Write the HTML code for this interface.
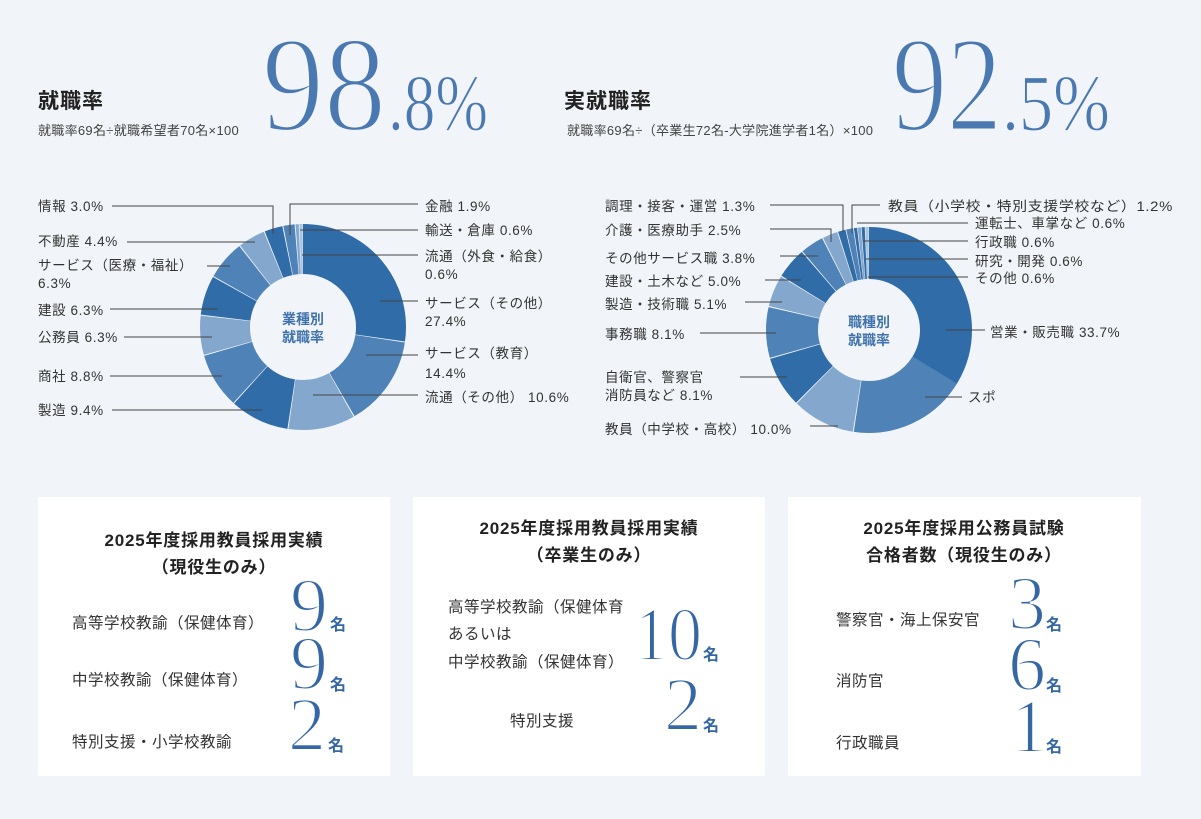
<!DOCTYPE html>
<html><head><meta charset="utf-8"><style>
html,body{margin:0;padding:0;background:#f1f4f8}
svg{display:block}
text{font-family:"Liberation Sans","Noto Sans CJK JP",sans-serif;fill:#333}
.l{font-size:13.5px;letter-spacing:0.6px}
.h{font-size:21px;font-weight:bold;fill:#222;letter-spacing:1px}
.s{font-size:13px;fill:#444;letter-spacing:0.3px}
.big{font-family:"Liberation Serif","Noto Serif CJK SC",serif;fill:#4a78b0;stroke:#f1f4f8;stroke-width:3}
.sm{stroke-width:1.2}
.cd{font-family:"Liberation Serif","Noto Serif CJK SC",serif;fill:#3567a5;font-size:76px;stroke:#fff;stroke-width:2}
.mei{font-size:16px;font-weight:bold;fill:#3567a5}
.t{font-size:17px;font-weight:bold;fill:#222;letter-spacing:0.8px}
.r{font-size:15.5px;fill:#333;letter-spacing:0.5px}
.ln{stroke:#444;stroke-width:1;fill:none}
.c{font-size:14px;font-weight:bold;fill:#3f72ad}
</style></head><body>
<svg width="1201" height="819" viewBox="0 0 1201 819">
<rect width="1201" height="819" fill="#f1f4f8"/>
<text x="38" y="108" class="h">就職率</text>
<text x="38" y="135" class="s">就職率69名÷就職希望者70名×100</text>
<text x="262" y="130" class="big" font-size="136" textLength="124" lengthAdjust="spacingAndGlyphs">98</text>
<text x="388" y="130" class="big sm" font-size="80" textLength="100" lengthAdjust="spacingAndGlyphs">.8%</text>
<text x="564" y="108" class="h">実就職率</text>
<text x="567" y="135" class="s">就職率69名÷（卒業生72名-大学院進学者1名）×100</text>
<text x="892" y="130" class="big" font-size="136" textLength="110" lengthAdjust="spacingAndGlyphs">92</text>
<text x="1002" y="130" class="big sm" font-size="80" textLength="108" lengthAdjust="spacingAndGlyphs">.5%</text>

<g transform="translate(303,327) rotate(-90)" fill="none" stroke-width="50">
<circle r="78" stroke="#2f6ca8" stroke-dasharray="133.5 490.1" stroke-dashoffset="0"/>
<circle r="78" stroke="#4f83b8" stroke-dasharray="69.8 490.1" stroke-dashoffset="-134.28"/>
<circle r="78" stroke="#84a8cd" stroke-dasharray="51.2 490.1" stroke-dashoffset="-204.86"/>
<circle r="78" stroke="#2f6ca8" stroke-dasharray="45.3 490.1" stroke-dashoffset="-256.81"/>
<circle r="78" stroke="#4f83b8" stroke-dasharray="42.4 490.1" stroke-dashoffset="-302.88"/>
<circle r="78" stroke="#84a8cd" stroke-dasharray="30.1 490.1" stroke-dashoffset="-346.00"/>
<circle r="78" stroke="#2f6ca8" stroke-dasharray="30.1 490.1" stroke-dashoffset="-376.88"/>
<circle r="78" stroke="#4f83b8" stroke-dasharray="30.1 490.1" stroke-dashoffset="-407.75"/>
<circle r="78" stroke="#84a8cd" stroke-dasharray="20.8 490.1" stroke-dashoffset="-438.63"/>
<circle r="78" stroke="#2f6ca8" stroke-dasharray="13.9 490.1" stroke-dashoffset="-460.19"/>
<circle r="78" stroke="#4f83b8" stroke-dasharray="8.6 490.1" stroke-dashoffset="-474.90"/>
<circle r="78" stroke="#84a8cd" stroke-dasharray="2.4 490.1" stroke-dashoffset="-484.21"/>
<circle r="78" stroke="#a9c2dd" stroke-dasharray="2.4 490.1" stroke-dashoffset="-487.15"/>
</g>
<text x="303" y="324" class="c" text-anchor="middle">業種別</text>
<text x="303" y="342" class="c" text-anchor="middle">就職率</text>

<g transform="translate(869,330) rotate(-90)" fill="none" stroke-width="52">
<circle r="77" stroke="#2f6ca8" stroke-dasharray="163.3 483.8" stroke-dashoffset="0"/>
<circle r="77" stroke="#4f83b8" stroke-dasharray="90.2 483.8" stroke-dashoffset="-163.04"/>
<circle r="77" stroke="#84a8cd" stroke-dasharray="47.6 483.8" stroke-dashoffset="-254.0"/>
<circle r="77" stroke="#2f6ca8" stroke-dasharray="38.4 483.8" stroke-dashoffset="-302.4"/>
<circle r="77" stroke="#4f83b8" stroke-dasharray="38.4 483.8" stroke-dashoffset="-341.6"/>
<circle r="77" stroke="#84a8cd" stroke-dasharray="23.9 483.8" stroke-dashoffset="-380.8"/>
<circle r="77" stroke="#2f6ca8" stroke-dasharray="23.4 483.8" stroke-dashoffset="-405.4"/>
<circle r="77" stroke="#4f83b8" stroke-dasharray="17.6 483.8" stroke-dashoffset="-429.6"/>
<circle r="77" stroke="#84a8cd" stroke-dasharray="11.4 483.8" stroke-dashoffset="-448.0"/>
<circle r="77" stroke="#2f6ca8" stroke-dasharray="5.7 483.8" stroke-dashoffset="-460.1"/>
<circle r="77" stroke="#4f83b8" stroke-dasharray="5.2 483.8" stroke-dashoffset="-466.4"/>
<circle r="77" stroke="#2f6ca8" stroke-dasharray="2.4 483.8" stroke-dashoffset="-472.2"/>
<circle r="77" stroke="#84a8cd" stroke-dasharray="2.4 483.8" stroke-dashoffset="-475.1"/>
<circle r="77" stroke="#2f6ca8" stroke-dasharray="2.4 483.8" stroke-dashoffset="-478.0"/>
<circle r="77" stroke="#a9c2dd" stroke-dasharray="2.4 483.8" stroke-dashoffset="-480.9"/>
</g>
<text x="869" y="327" class="c" text-anchor="middle">職種別</text>
<text x="869" y="345" class="c" text-anchor="middle">就職率</text>

<text x="38" y="211" class="l">情報 3.0%</text><polyline class="ln" points="112,206 273,206 273,234"/>
<text x="38" y="246" class="l">不動産 4.4%</text><polyline class="ln" points="127,242 255,242"/>
<text x="38" y="270" class="l">サービス（医療・福祉）</text><text x="38" y="288" class="l">6.3%</text><polyline class="ln" points="207,266 230,266"/>
<text x="38" y="315" class="l">建設 6.3%</text><polyline class="ln" points="110,309 218,309"/>
<text x="38" y="342" class="l">公務員 6.3%</text><polyline class="ln" points="124,337 212,337"/>
<text x="38" y="381" class="l">商社 8.8%</text><polyline class="ln" points="110,376 222,376"/>
<text x="38" y="415" class="l">製造 9.4%</text><polyline class="ln" points="112,410 262,410"/>
<text x="425" y="211" class="l">金融 1.9%</text><polyline class="ln" points="290,235 290,204 418,204"/>
<text x="425" y="235" class="l">輸送・倉庫 0.6%</text><polyline class="ln" points="300,230 418,230"/>
<text x="425" y="261" class="l">流通（外食・給食）</text><text x="425" y="279" class="l">0.6%</text><polyline class="ln" points="302,255 418,255"/>
<text x="425" y="308" class="l">サービス（その他）</text><text x="425" y="326" class="l">27.4%</text><polyline class="ln" points="380,301 418,301"/>
<text x="425" y="358" class="l">サービス（教育）</text><text x="425" y="378" class="l">14.4%</text><polyline class="ln" points="366,355 418,355"/>
<text x="425" y="402" class="l">流通（その他） 10.6%</text><polyline class="ln" points="313,395 418,395"/>

<text x="605" y="211" class="l">調理・接客・運営 1.3%</text><polyline class="ln" points="770,205 843,205 843,232"/>
<text x="605" y="235" class="l">介護・医療助手 2.5%</text><polyline class="ln" points="770,229 831,229 831,242"/>
<text x="605" y="263" class="l">その他サービス職 3.8%</text><polyline class="ln" points="780,256 818,256"/>
<text x="605" y="286" class="l">建設・土木など 5.0%</text><polyline class="ln" points="765,280 801,280"/>
<text x="605" y="309" class="l">製造・技術職 5.1%</text><polyline class="ln" points="745,302 782,302"/>
<text x="605" y="339" class="l">事務職 8.1%</text><polyline class="ln" points="700,333 776,333"/>
<text x="605" y="382" class="l">自衛官、警察官</text><text x="605" y="400" class="l">消防員など 8.1%</text><polyline class="ln" points="740,377 787,377"/>
<text x="605" y="434" class="l">教員（中学校・高校） 10.0%</text><polyline class="ln" points="810,426 838,426"/>
<text x="888" y="211" class="l" textLength="285" lengthAdjust="spacingAndGlyphs">教員（小学校・特別支援学校など）1.2%</text><polyline class="ln" points="852,233 852,205 880,205"/>
<text x="975" y="228" class="l">運転士、車掌など 0.6%</text><polyline class="ln" points="857,223 968,223"/>
<text x="975" y="247" class="l">行政職 0.6%</text><polyline class="ln" points="863,241 968,241"/>
<text x="975" y="266" class="l">研究・開発 0.6%</text><polyline class="ln" points="866,259 968,259"/>
<text x="975" y="283" class="l">その他 0.6%</text><polyline class="ln" points="868,277 968,277"/>
<text x="990" y="337" class="l">営業・販売職 33.7%</text><polyline class="ln" points="946,330 985,330"/>
<text x="968" y="402" class="l">スポ</text><polyline class="ln" points="925,397 962,397"/>

<rect x="38" y="497" width="352" height="279" fill="#fff"/>
<rect x="413" y="497" width="352" height="279" fill="#fff"/>
<rect x="788" y="497" width="353" height="279" fill="#fff"/>

<text x="214" y="546" class="t" text-anchor="middle">2025年度採用教員採用実績</text>
<text x="214" y="573" class="t" text-anchor="middle">（現役生のみ）</text>
<text x="72" y="628" class="r">高等学校教諭（保健体育）</text>
<text x="290" y="631" class="cd">9</text><text x="330" y="630" class="mei">名</text>
<text x="72" y="685" class="r">中学校教諭（保健体育）</text>
<text x="290" y="689" class="cd">9</text><text x="330" y="690" class="mei">名</text>
<text x="72" y="747" class="r">特別支援・小学校教諭</text>
<text x="288" y="750" class="cd">2</text><text x="328" y="751" class="mei">名</text>

<text x="589" y="534" class="t" text-anchor="middle">2025年度採用教員採用実績</text>
<text x="589" y="561" class="t" text-anchor="middle">（卒業生のみ）</text>
<text x="448" y="612" class="r">高等学校教諭（保健体育</text>
<text x="448" y="639" class="r">あるいは</text>
<text x="448" y="667" class="r">中学校教諭（保健体育）</text>
<text x="634" y="660" class="cd" textLength="68" lengthAdjust="spacingAndGlyphs">10</text><text x="703" y="660" class="mei">名</text>
<text x="510" y="726" class="r">特別支援</text>
<text x="664" y="730" class="cd">2</text><text x="703" y="731" class="mei">名</text>

<text x="964" y="534" class="t" text-anchor="middle">2025年度採用公務員試験</text>
<text x="964" y="561" class="t" text-anchor="middle">合格者数（現役生のみ）</text>
<text x="836" y="625" class="r">警察官・海上保安官</text>
<text x="1008" y="629" class="cd">3</text><text x="1046" y="630" class="mei">名</text>
<text x="836" y="686" class="r">消防官</text>
<text x="1008" y="690" class="cd">6</text><text x="1046" y="691" class="mei">名</text>
<text x="836" y="748" class="r">行政職員</text>
<text x="1010" y="752" class="cd">1</text><text x="1046" y="752" class="mei">名</text>
</svg>
</body></html>
